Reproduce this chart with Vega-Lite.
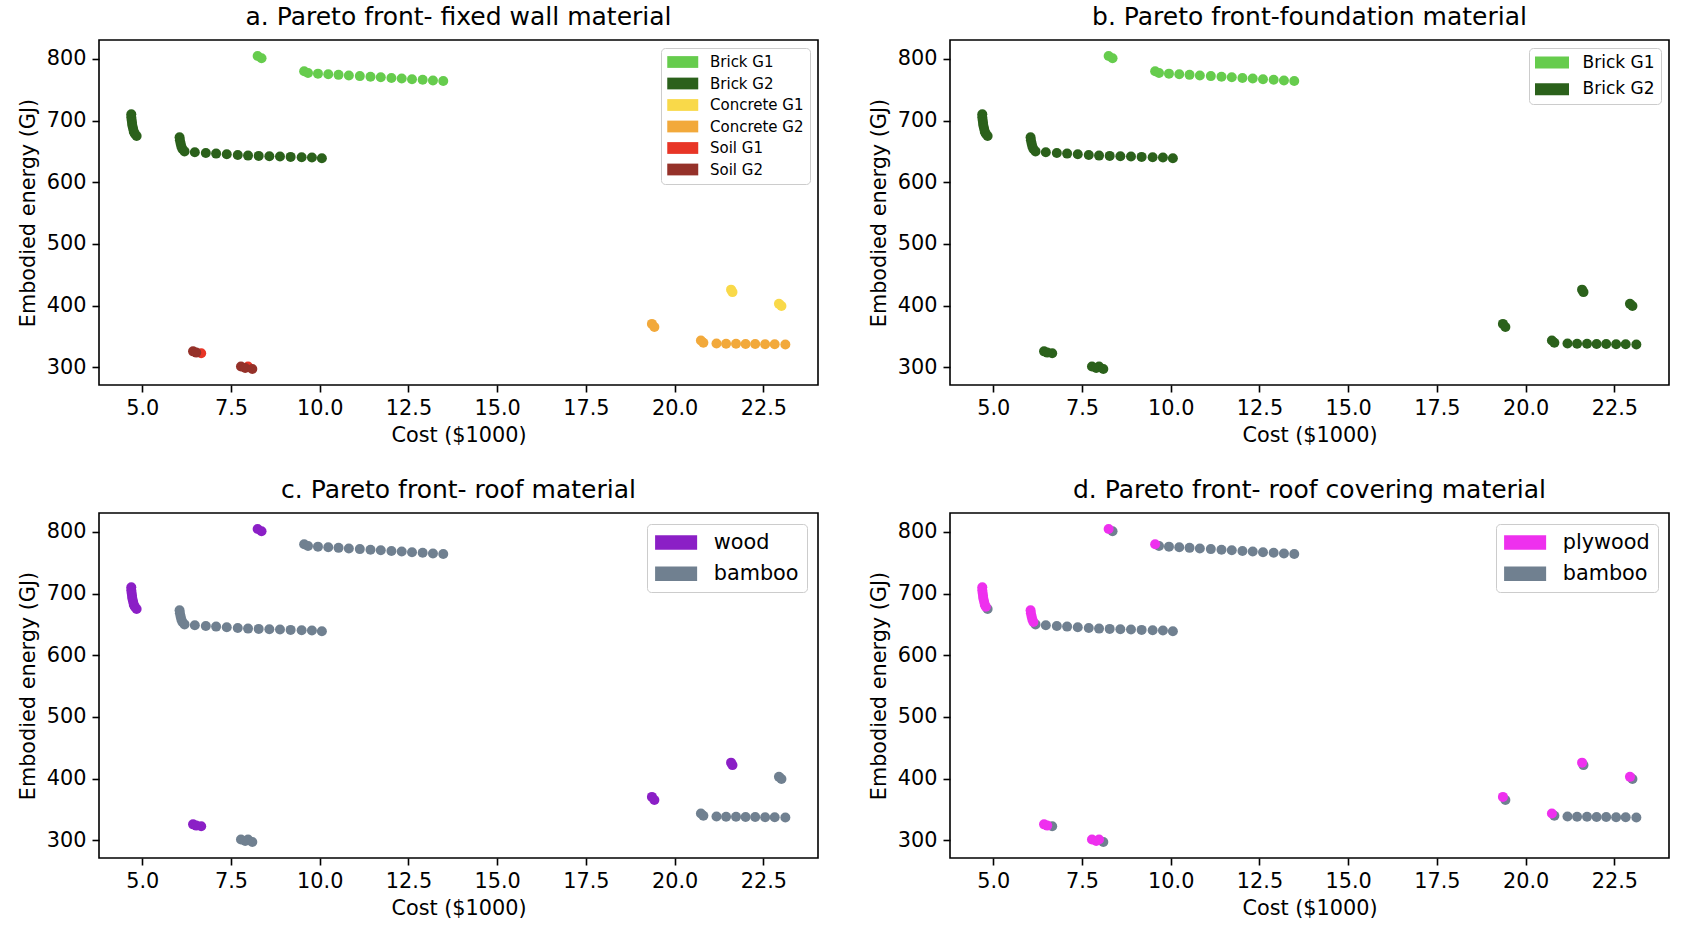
{
  "$schema": "https://vega.github.io/schema/vega-lite/v6.json",
  "padding": {"left": 16, "top": 4, "right": 5, "bottom": 5},
  "background": "white",
  "datasets": {
    "pts": [
      {"cost": 8.25, "energy": 804.5, "wall": "Brick G1", "fnd": "Brick G1", "roof": "wood", "cov": "plywood"},
      {"cost": 8.36, "energy": 801, "wall": "Brick G1", "fnd": "Brick G1", "roof": "wood", "cov": "bamboo"},
      {"cost": 9.56, "energy": 780, "wall": "Brick G1", "fnd": "Brick G1", "roof": "bamboo", "cov": "plywood"},
      {"cost": 9.67, "energy": 777, "wall": "Brick G1", "fnd": "Brick G1", "roof": "bamboo", "cov": "bamboo"},
      {"cost": 9.95, "energy": 776, "wall": "Brick G1", "fnd": "Brick G1", "roof": "bamboo", "cov": "bamboo"},
      {"cost": 10.24, "energy": 775, "wall": "Brick G1", "fnd": "Brick G1", "roof": "bamboo", "cov": "bamboo"},
      {"cost": 10.53, "energy": 774, "wall": "Brick G1", "fnd": "Brick G1", "roof": "bamboo", "cov": "bamboo"},
      {"cost": 10.82, "energy": 773, "wall": "Brick G1", "fnd": "Brick G1", "roof": "bamboo", "cov": "bamboo"},
      {"cost": 11.13, "energy": 772, "wall": "Brick G1", "fnd": "Brick G1", "roof": "bamboo", "cov": "bamboo"},
      {"cost": 11.43, "energy": 771, "wall": "Brick G1", "fnd": "Brick G1", "roof": "bamboo", "cov": "bamboo"},
      {"cost": 11.72, "energy": 770, "wall": "Brick G1", "fnd": "Brick G1", "roof": "bamboo", "cov": "bamboo"},
      {"cost": 12.02, "energy": 769, "wall": "Brick G1", "fnd": "Brick G1", "roof": "bamboo", "cov": "bamboo"},
      {"cost": 12.31, "energy": 768, "wall": "Brick G1", "fnd": "Brick G1", "roof": "bamboo", "cov": "bamboo"},
      {"cost": 12.6, "energy": 767, "wall": "Brick G1", "fnd": "Brick G1", "roof": "bamboo", "cov": "bamboo"},
      {"cost": 12.9, "energy": 766, "wall": "Brick G1", "fnd": "Brick G1", "roof": "bamboo", "cov": "bamboo"},
      {"cost": 13.19, "energy": 765, "wall": "Brick G1", "fnd": "Brick G1", "roof": "bamboo", "cov": "bamboo"},
      {"cost": 13.48, "energy": 764, "wall": "Brick G1", "fnd": "Brick G1", "roof": "bamboo", "cov": "bamboo"},
      {"cost": 4.69, "energy": 710, "wall": "Brick G2", "fnd": "Brick G2", "roof": "wood", "cov": "plywood"},
      {"cost": 4.69, "energy": 705.5, "wall": "Brick G2", "fnd": "Brick G2", "roof": "wood", "cov": "plywood"},
      {"cost": 4.7, "energy": 701, "wall": "Brick G2", "fnd": "Brick G2", "roof": "wood", "cov": "plywood"},
      {"cost": 4.71, "energy": 696.5, "wall": "Brick G2", "fnd": "Brick G2", "roof": "wood", "cov": "plywood"},
      {"cost": 4.72, "energy": 692, "wall": "Brick G2", "fnd": "Brick G2", "roof": "wood", "cov": "plywood"},
      {"cost": 4.74, "energy": 687, "wall": "Brick G2", "fnd": "Brick G2", "roof": "wood", "cov": "plywood"},
      {"cost": 4.76, "energy": 682, "wall": "Brick G2", "fnd": "Brick G2", "roof": "wood", "cov": "plywood"},
      {"cost": 4.79, "energy": 678.5, "wall": "Brick G2", "fnd": "Brick G2", "roof": "wood", "cov": "plywood"},
      {"cost": 4.84, "energy": 675, "wall": "Brick G2", "fnd": "Brick G2", "roof": "wood", "cov": "bamboo"},
      {"cost": 6.05, "energy": 673, "wall": "Brick G2", "fnd": "Brick G2", "roof": "bamboo", "cov": "plywood"},
      {"cost": 6.06, "energy": 668, "wall": "Brick G2", "fnd": "Brick G2", "roof": "bamboo", "cov": "plywood"},
      {"cost": 6.08, "energy": 663, "wall": "Brick G2", "fnd": "Brick G2", "roof": "bamboo", "cov": "plywood"},
      {"cost": 6.1, "energy": 658, "wall": "Brick G2", "fnd": "Brick G2", "roof": "bamboo", "cov": "plywood"},
      {"cost": 6.13, "energy": 654, "wall": "Brick G2", "fnd": "Brick G2", "roof": "bamboo", "cov": "plywood"},
      {"cost": 6.19, "energy": 650, "wall": "Brick G2", "fnd": "Brick G2", "roof": "bamboo", "cov": "bamboo"},
      {"cost": 6.48, "energy": 648.6, "wall": "Brick G2", "fnd": "Brick G2", "roof": "bamboo", "cov": "bamboo"},
      {"cost": 6.79, "energy": 647.5, "wall": "Brick G2", "fnd": "Brick G2", "roof": "bamboo", "cov": "bamboo"},
      {"cost": 7.08, "energy": 646.4, "wall": "Brick G2", "fnd": "Brick G2", "roof": "bamboo", "cov": "bamboo"},
      {"cost": 7.38, "energy": 645.4, "wall": "Brick G2", "fnd": "Brick G2", "roof": "bamboo", "cov": "bamboo"},
      {"cost": 7.69, "energy": 644.3, "wall": "Brick G2", "fnd": "Brick G2", "roof": "bamboo", "cov": "bamboo"},
      {"cost": 7.98, "energy": 643.2, "wall": "Brick G2", "fnd": "Brick G2", "roof": "bamboo", "cov": "bamboo"},
      {"cost": 8.28, "energy": 642.7, "wall": "Brick G2", "fnd": "Brick G2", "roof": "bamboo", "cov": "bamboo"},
      {"cost": 8.58, "energy": 642.1, "wall": "Brick G2", "fnd": "Brick G2", "roof": "bamboo", "cov": "bamboo"},
      {"cost": 8.88, "energy": 641.6, "wall": "Brick G2", "fnd": "Brick G2", "roof": "bamboo", "cov": "bamboo"},
      {"cost": 9.18, "energy": 641.1, "wall": "Brick G2", "fnd": "Brick G2", "roof": "bamboo", "cov": "bamboo"},
      {"cost": 9.49, "energy": 640.5, "wall": "Brick G2", "fnd": "Brick G2", "roof": "bamboo", "cov": "bamboo"},
      {"cost": 9.78, "energy": 640, "wall": "Brick G2", "fnd": "Brick G2", "roof": "bamboo", "cov": "bamboo"},
      {"cost": 10.06, "energy": 639, "wall": "Brick G2", "fnd": "Brick G2", "roof": "bamboo", "cov": "bamboo"},
      {"cost": 6.66, "energy": 323, "wall": "Soil G1", "fnd": "Brick G2", "roof": "wood", "cov": "bamboo"},
      {"cost": 6.43, "energy": 326, "wall": "Soil G2", "fnd": "Brick G2", "roof": "wood", "cov": "plywood"},
      {"cost": 6.52, "energy": 324, "wall": "Soil G2", "fnd": "Brick G2", "roof": "wood", "cov": "plywood"},
      {"cost": 7.98, "energy": 301.6, "wall": "Soil G1", "fnd": "Brick G2", "roof": "bamboo", "cov": "plywood"},
      {"cost": 7.78, "energy": 301.6, "wall": "Soil G2", "fnd": "Brick G2", "roof": "bamboo", "cov": "plywood"},
      {"cost": 7.9, "energy": 299, "wall": "Soil G2", "fnd": "Brick G2", "roof": "bamboo", "cov": "plywood"},
      {"cost": 8.1, "energy": 297.3, "wall": "Soil G2", "fnd": "Brick G2", "roof": "bamboo", "cov": "bamboo"},
      {"cost": 19.36, "energy": 370.5, "wall": "Concrete G2", "fnd": "Brick G2", "roof": "wood", "cov": "plywood"},
      {"cost": 19.43, "energy": 365.5, "wall": "Concrete G2", "fnd": "Brick G2", "roof": "wood", "cov": "bamboo"},
      {"cost": 21.59, "energy": 426, "wall": "Concrete G1", "fnd": "Brick G2", "roof": "wood", "cov": "plywood"},
      {"cost": 21.63, "energy": 422, "wall": "Concrete G1", "fnd": "Brick G2", "roof": "wood", "cov": "bamboo"},
      {"cost": 22.94, "energy": 403, "wall": "Concrete G1", "fnd": "Brick G2", "roof": "bamboo", "cov": "plywood"},
      {"cost": 23.01, "energy": 399.5, "wall": "Concrete G1", "fnd": "Brick G2", "roof": "bamboo", "cov": "bamboo"},
      {"cost": 20.74, "energy": 343.5, "wall": "Concrete G2", "fnd": "Brick G2", "roof": "bamboo", "cov": "plywood"},
      {"cost": 20.81, "energy": 340, "wall": "Concrete G2", "fnd": "Brick G2", "roof": "bamboo", "cov": "bamboo"},
      {"cost": 21.18, "energy": 338.6, "wall": "Concrete G2", "fnd": "Brick G2", "roof": "bamboo", "cov": "bamboo"},
      {"cost": 21.45, "energy": 338.4, "wall": "Concrete G2", "fnd": "Brick G2", "roof": "bamboo", "cov": "bamboo"},
      {"cost": 21.73, "energy": 338.2, "wall": "Concrete G2", "fnd": "Brick G2", "roof": "bamboo", "cov": "bamboo"},
      {"cost": 22.0, "energy": 338, "wall": "Concrete G2", "fnd": "Brick G2", "roof": "bamboo", "cov": "bamboo"},
      {"cost": 22.27, "energy": 337.8, "wall": "Concrete G2", "fnd": "Brick G2", "roof": "bamboo", "cov": "bamboo"},
      {"cost": 22.55, "energy": 337.6, "wall": "Concrete G2", "fnd": "Brick G2", "roof": "bamboo", "cov": "bamboo"},
      {"cost": 22.82, "energy": 337.4, "wall": "Concrete G2", "fnd": "Brick G2", "roof": "bamboo", "cov": "bamboo"},
      {"cost": 23.12, "energy": 337.2, "wall": "Concrete G2", "fnd": "Brick G2", "roof": "bamboo", "cov": "bamboo"}
    ]
  },
  "columns": 2,
  "spacing": {"row": 30, "column": 48},
  "resolve": {"scale": {"color": "independent"}, "legend": {"color": "independent"}},
  "concat": [
    {
      "title": "a. Pareto front- fixed wall material",
      "width": 719, "height": 345,
      "data": {"name": "pts"},
      "mark": {"type": "point"},
      "encoding": {
        "x": {"field": "cost", "type": "quantitative", "scale": {"domain": [3.78, 24.04], "nice": false, "zero": false}, "axis": {"title": "Cost ($1000)", "values": [5, 7.5, 10, 12.5, 15, 17.5, 20, 22.5], "format": ".1f"}},
        "y": {"field": "energy", "type": "quantitative", "scale": {"domain": [271.5, 830.5], "nice": false, "zero": false}, "axis": {"title": "Embodied energy (GJ)", "values": [300, 400, 500, 600, 700, 800], "format": "d"}},
        "color": {"field": "wall", "type": "nominal",
          "scale": {"domain": ["Brick G1", "Brick G2", "Concrete G1", "Concrete G2", "Soil G1", "Soil G2"], "range": ["#66cc4d", "#2b611b", "#f9d949", "#f2a93b", "#e83526", "#953129"]},
          "legend": {"title": null, "orient": "top-right", "offset": 8, "symbolType": "M-1,-0.76L3,-0.76L3,0.76L-1,0.76Z", "symbolSize": 240, "labelFontSize": 15, "rowPadding": 5.5, "labelOffset": 27, "padding": 6}}
      }
    },
    {
      "title": "b. Pareto front-foundation material",
      "width": 719, "height": 345,
      "data": {"name": "pts"},
      "mark": {"type": "point"},
      "encoding": {
        "x": {"field": "cost", "type": "quantitative", "scale": {"domain": [3.78, 24.04], "nice": false, "zero": false}, "axis": {"title": "Cost ($1000)", "values": [5, 7.5, 10, 12.5, 15, 17.5, 20, 22.5], "format": ".1f"}},
        "y": {"field": "energy", "type": "quantitative", "scale": {"domain": [271.5, 830.5], "nice": false, "zero": false}, "axis": {"title": "Embodied energy (GJ)", "values": [300, 400, 500, 600, 700, 800], "format": "d"}},
        "color": {"field": "fnd", "type": "nominal",
          "scale": {"domain": ["Brick G1", "Brick G2"], "range": ["#66cc4d", "#2b611b"]},
          "legend": {"title": null, "orient": "top-right", "offset": 8, "symbolType": "M-1,-0.7L3,-0.7L3,0.7L-1,0.7Z", "symbolSize": 289, "labelFontSize": 17, "rowPadding": 8.8, "labelOffset": 30.5, "padding": 6}}
      }
    },
    {
      "title": "c. Pareto front- roof material",
      "width": 719, "height": 345,
      "data": {"name": "pts"},
      "mark": {"type": "point"},
      "encoding": {
        "x": {"field": "cost", "type": "quantitative", "scale": {"domain": [3.78, 24.04], "nice": false, "zero": false}, "axis": {"title": "Cost ($1000)", "values": [5, 7.5, 10, 12.5, 15, 17.5, 20, 22.5], "format": ".1f"}},
        "y": {"field": "energy", "type": "quantitative", "scale": {"domain": [271.5, 830.5], "nice": false, "zero": false}, "axis": {"title": "Embodied energy (GJ)", "values": [300, 400, 500, 600, 700, 800], "format": "d"}},
        "color": {"field": "roof", "type": "nominal",
          "scale": {"domain": ["wood", "bamboo"], "range": ["#8b1fc6", "#708090"]},
          "legend": {"title": null, "orient": "top-right", "offset": 11, "symbolType": "M-1,-0.7L3.04,-0.7L3.04,0.7L-1,0.7Z", "symbolSize": 433, "labelFontSize": 20.8, "rowPadding": 9.2, "labelOffset": 37.7, "padding": 8}}
      }
    },
    {
      "title": "d. Pareto front- roof covering material",
      "width": 719, "height": 345,
      "data": {"name": "pts"},
      "mark": {"type": "point"},
      "encoding": {
        "x": {"field": "cost", "type": "quantitative", "scale": {"domain": [3.78, 24.04], "nice": false, "zero": false}, "axis": {"title": "Cost ($1000)", "values": [5, 7.5, 10, 12.5, 15, 17.5, 20, 22.5], "format": ".1f"}},
        "y": {"field": "energy", "type": "quantitative", "scale": {"domain": [271.5, 830.5], "nice": false, "zero": false}, "axis": {"title": "Embodied energy (GJ)", "values": [300, 400, 500, 600, 700, 800], "format": "d"}},
        "color": {"field": "cov", "type": "nominal",
          "scale": {"domain": ["plywood", "bamboo"], "range": ["#ee30ee", "#708090"]},
          "legend": {"title": null, "orient": "top-right", "offset": 11, "symbolType": "M-1,-0.7L3.04,-0.7L3.04,0.7L-1,0.7Z", "symbolSize": 433, "labelFontSize": 20.8, "rowPadding": 9.2, "labelOffset": 37.7, "padding": 8}},
        "order": {"field": "cov", "type": "ordinal", "sort": "ascending"}
      }
    }
  ],
  "config": {
    "font": "DejaVu Sans",
    "view": {"stroke": "#000", "strokeWidth": 1.6},
    "axis": {"domain": false, "grid": false, "tickColor": "#000", "tickSize": 7, "tickWidth": 1.6, "labelFontSize": 20.8, "labelColor": "#000", "labelFont": "DejaVu Sans", "labelPadding": 6, "labelFlush": false, "labelOverlap": false, "titleFontSize": 20.8, "titleFontWeight": "normal", "titleColor": "#000", "titleFont": "DejaVu Sans", "titlePadding": 8},
    "title": {"fontSize": 25, "fontWeight": "normal", "font": "DejaVu Sans", "color": "#000", "offset": 10},
    "legend": {"strokeColor": "#cccccc", "fillColor": "white", "cornerRadius": 4, "labelFont": "DejaVu Sans", "labelColor": "#000", "symbolStrokeWidth": 0, "symbolOpacity": 1},
    "point": {"filled": true, "size": 100, "opacity": 1, "strokeWidth": 0}
  }
}
